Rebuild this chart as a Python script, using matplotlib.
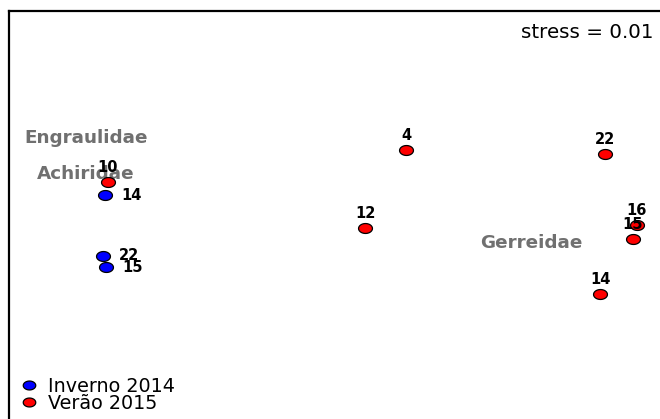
import matplotlib
matplotlib.use("Agg")
import matplotlib.pyplot as plt
import numpy as np
from matplotlib.path import Path
from matplotlib.lines import Line2D

# NMDS site scores
verao_labels = ["10", "4", "22", "12", "16", "15", "14"]
verao_x = [-0.968, 0.224, 1.020, 0.060, 1.148, 1.132, 1.000]
verao_y = [0.192, 0.320, 0.304, 0.008, 0.020, -0.036, -0.256]

inverno_labels = ["14", "22", "15"]
inverno_x = [-0.980, -0.988, -0.976]
inverno_y = [0.140, -0.104, -0.148]

# Family (species) scores
families = ["Engraulidae", "Achiridae", "Gerreidae"]
family_x = [-1.056, -1.056, 0.724]
family_y = [0.368, 0.224, -0.052]

stress = 0.01
group_names = ["Inverno 2014", "Verão 2015"]
group_colors = ["#0000FF", "#FF0000"]

# slightly wide elliptical point symbol
t = np.linspace(0, 2 * np.pi, 60)
ell = Path(np.column_stack([1.4 * np.cos(t), np.sin(t)]), closed=True)

W, H = 660, 419
fig = plt.figure(figsize=(W / 100, H / 100), dpi=100)
ax = fig.add_axes([9 / W, -11 / H, 661 / W, 1.0])
ax.set_xlim(-1.364, 1.28)
ax.set_ylim(-0.8, 0.876)
ax.set_xticks([])
ax.set_yticks([])
for s in ax.spines.values():
    s.set_linewidth(1.6)
    s.set_color("black")

ms = 10
ax.plot(inverno_x, inverno_y, ls="none", marker=ell, ms=ms,
        mfc=group_colors[0], mec="black", mew=0.9, zorder=3)
ax.plot(verao_x, verao_y, ls="none", marker=ell, ms=ms,
        mfc=group_colors[1], mec="black", mew=0.9, zorder=3)

lab_font = dict(family="DejaVu Sans", weight="bold", size=10.5, color="black")
for lab, x, y in zip(verao_labels, verao_x, verao_y):
    ax.annotate(lab, (x, y), xytext=(0, 10.5), textcoords="offset points",
                ha="center", va="center", zorder=4, **lab_font)
for lab, x, y in zip(inverno_labels, inverno_x, inverno_y):
    ax.annotate(lab, (x, y), xytext=(11.5, 0), textcoords="offset points",
                ha="left", va="center", zorder=4, **lab_font)

for name, x, y in zip(families, family_x, family_y):
    ax.text(x, y, name, ha="center", va="center", family="DejaVu Sans",
            weight="bold", size=13.2, color="#707070", zorder=2)

ax.text(0.9743, 0.9475, f"stress = {stress}", transform=ax.transAxes,
        ha="right", va="center", family="DejaVu Sans", size=14.3, color="black")

handles = [Line2D([], [], ls="none", marker=ell, ms=9, mfc=c, mec="black",
                  mew=0.9) for c in group_colors]
leg = ax.legend(handles, group_names, loc="lower left",
                bbox_to_anchor=(17 / W, 6 / H), bbox_transform=fig.transFigure,
                frameon=False, borderpad=0, borderaxespad=0, handlelength=1.2,
                handletextpad=0.42, labelspacing=-0.1,
                prop=dict(family="DejaVu Sans", size=13.8))

fig.savefig("out.png", dpi=100)
